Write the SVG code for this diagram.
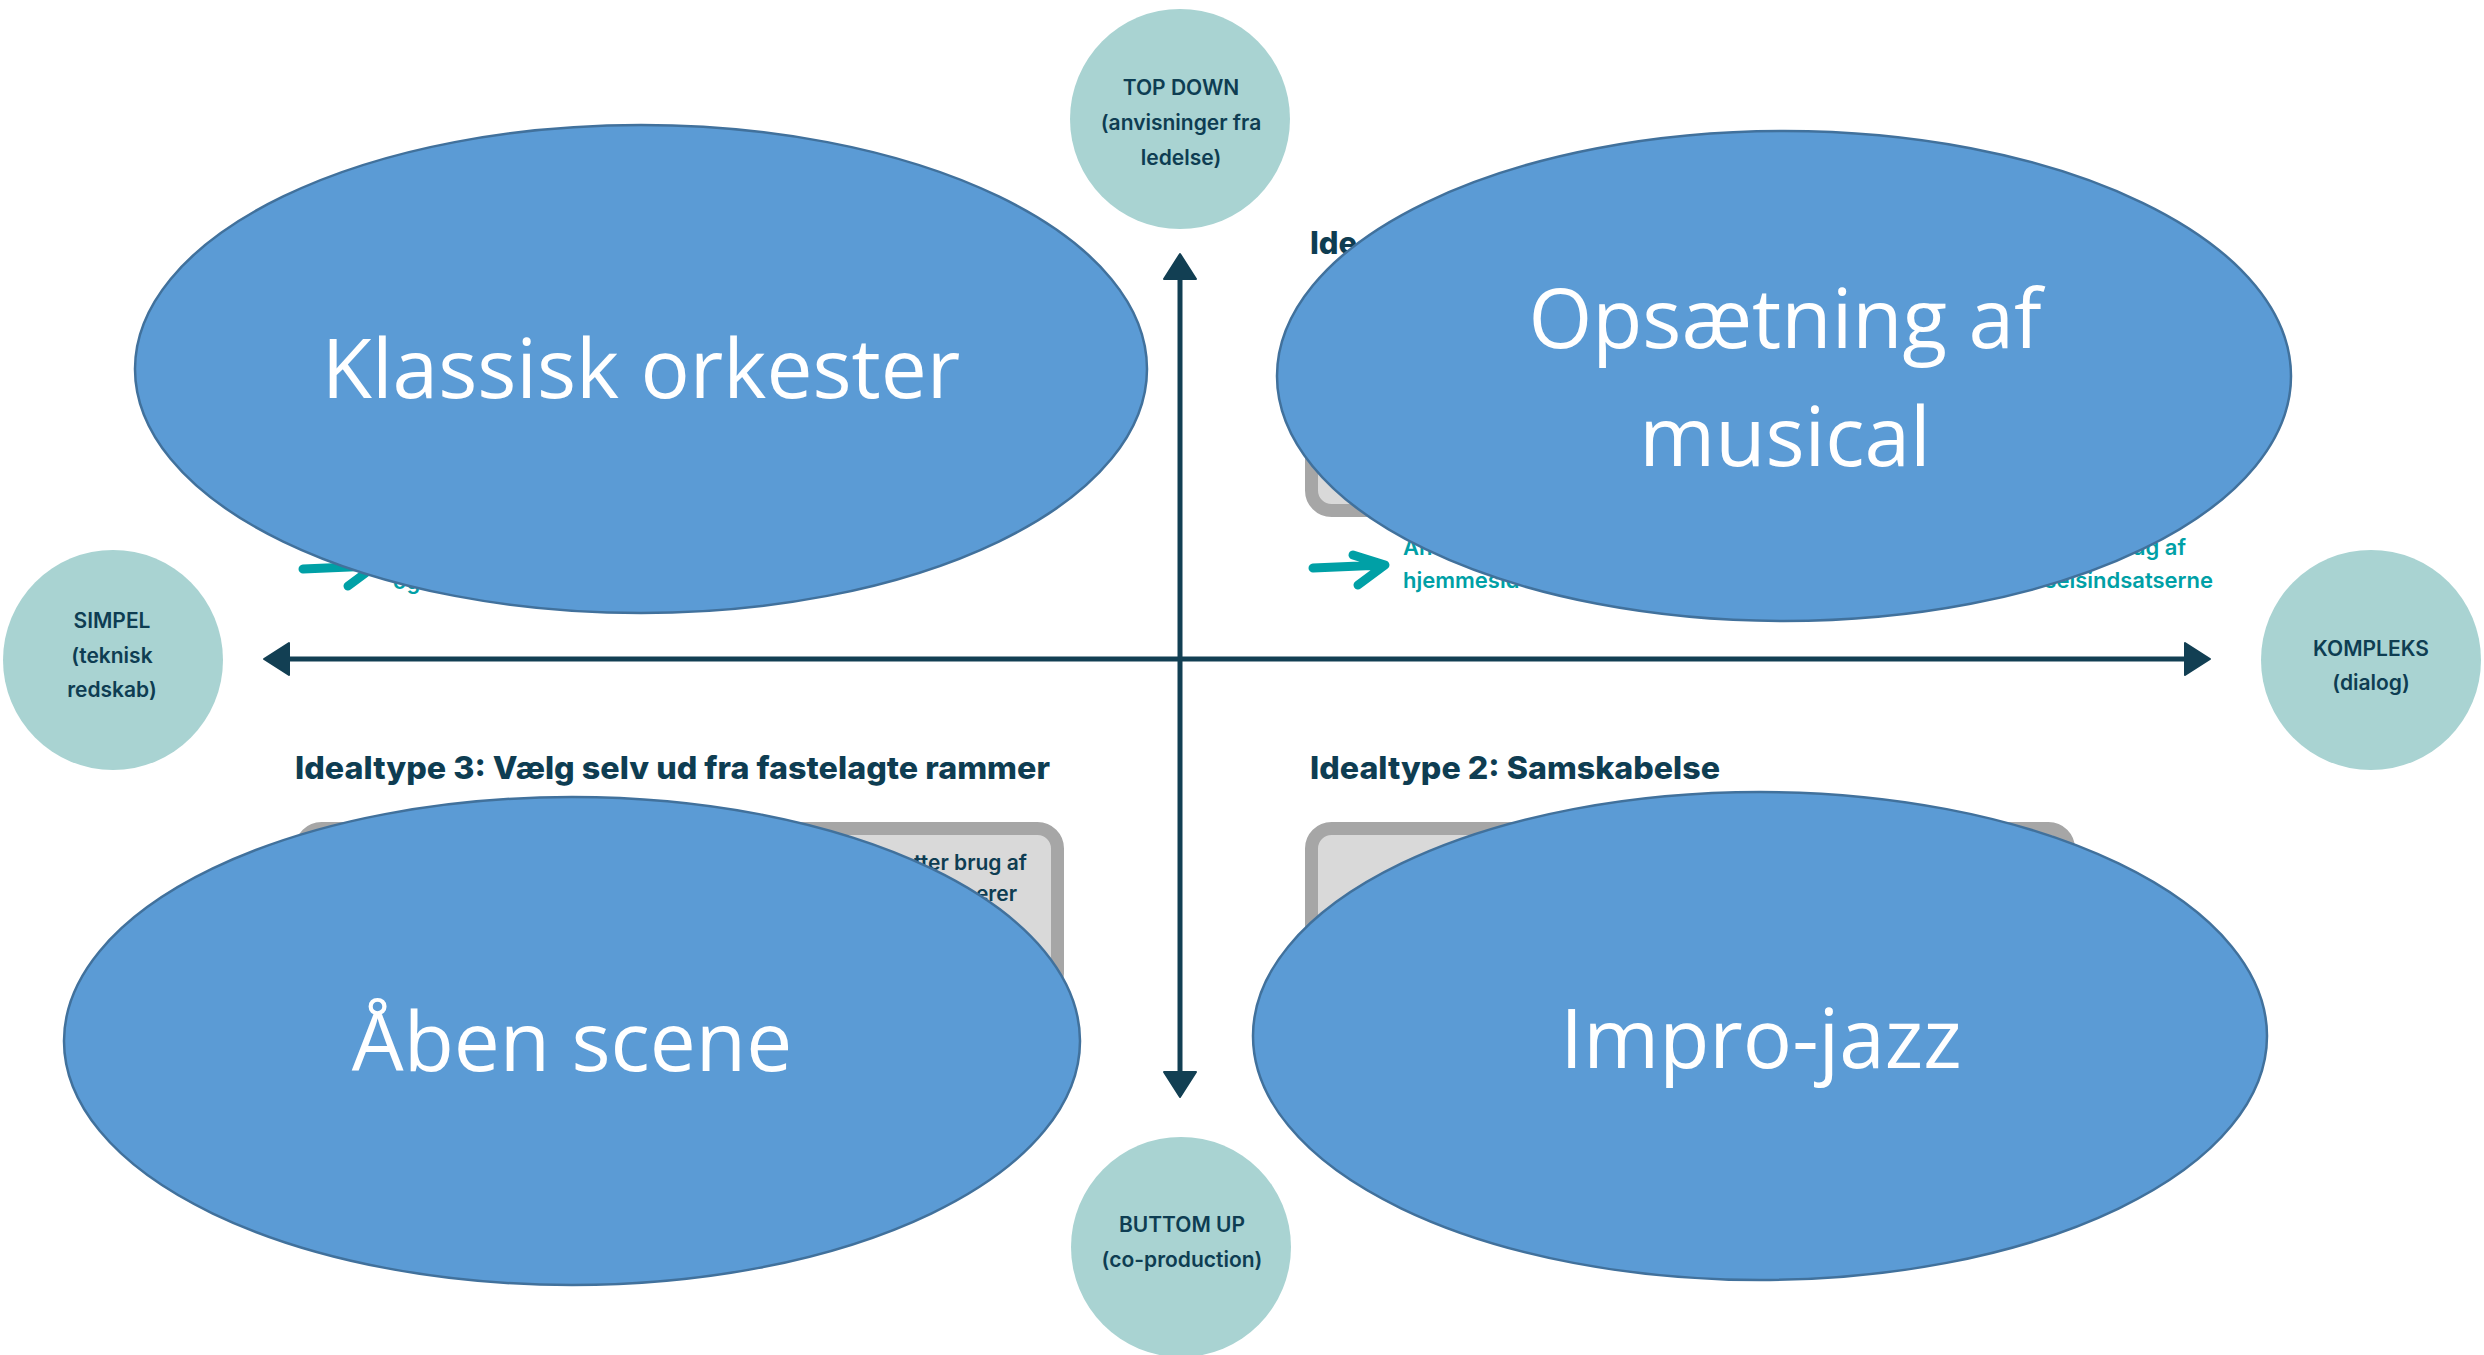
<svg xmlns="http://www.w3.org/2000/svg" width="2484" height="1355" viewBox="0 0 2484 1355">
<defs>
<style>
.box{fill:#d9d9d9;stroke:#a6a6a6;stroke-width:13}
.head{font-family:Inter,"Liberation Sans",sans-serif;font-weight:800;font-size:31px;fill:#0e3d52}
.teal{font-family:Inter,"Liberation Sans",sans-serif;font-weight:600;font-size:22px;fill:#00a0a6}
.boxtxt{font-family:Inter,"Liberation Sans",sans-serif;font-weight:600;font-size:21px;fill:#0e3d52}
.axis{stroke:#123f53;stroke-width:5;fill:none;marker-start:url(#ah);marker-end:url(#ah)}
.pole circle{fill:#a9d3d2}
.pole text{font-family:Inter,"Liberation Sans",sans-serif;font-weight:600;font-size:21px;fill:#0e3d52;text-anchor:middle}
.ell ellipse{fill:#5b9bd5;stroke:#41719c;stroke-width:2.5}
.ell text{font-family:"Open Sans","Noto Sans",sans-serif;font-size:82px;fill:#ffffff;text-anchor:middle}
.brush{fill:none;stroke:#00a0a6;stroke-width:9;stroke-linecap:round;stroke-linejoin:round}
</style>
<marker id="ah" viewBox="0 -18 28 36" refX="1" refY="0" markerWidth="28" markerHeight="36" markerUnits="userSpaceOnUse" orient="auto-start-reverse">
<path d="M1,-16 L26,0 L1,16 Z" fill="#123f53" stroke="#123f53" stroke-width="2" stroke-linejoin="round"/>
</marker>
<path id="brushArrow" d="M0,1 C20,0 45,-1 70,-2 M40,-12 L72,-2 L45,18"/>
</defs>
<rect width="2484" height="1355" fill="#ffffff"/>

<g id="background">
<rect class="box" x="1311.5" y="290" width="763" height="220.5" rx="20"/>
<rect class="box" x="301.5" y="828.5" width="756" height="165" rx="20"/>
<rect class="box" x="1311.5" y="828.5" width="757" height="165" rx="20"/>
<text class="head" x="1310" y="254">Ide</text>
<text class="head" x="295" y="779" textLength="755" lengthAdjust="spacingAndGlyphs">Idealtype 3: Vælg selv ud fra fastelagte rammer</text>
<text class="head" x="1310" y="779" textLength="410" lengthAdjust="spacingAndGlyphs">Idealtype 2: Samskabelse</text>
<use href="#brushArrow" class="brush" x="1313" y="567"/>
<use href="#brushArrow" class="brush" x="303" y="568"/>
<text class="teal" x="1403" y="555">An</text>
<text class="teal" x="1403" y="588">hjemmesid</text>
<text class="teal" x="2186" y="555" text-anchor="end">ug af</text>
<text class="teal" x="2213" y="588" text-anchor="end">vselsindsatserne</text>
<text class="teal" x="393" y="589">og</text>
<text class="boxtxt" x="1027" y="870" text-anchor="end">tter brug af</text>
<text class="boxtxt" x="1017" y="901" text-anchor="end">erer</text>
</g>

<g id="connectors">
<path class="axis" d="M289,659 L2185,659"/>
<path class="axis" d="M1180,279 L1180,1072"/>
</g>

<g id="top-down" class="pole">
<circle cx="1180" cy="119" r="110"/>
<text x="1181" y="95">TOP DOWN</text>
<text x="1181" y="130">(anvisninger fra</text>
<text x="1181" y="165">ledelse)</text>
</g>
<g id="simpel" class="pole">
<circle cx="113" cy="660" r="110"/>
<text x="112" y="628">SIMPEL</text>
<text x="112" y="663">(teknisk</text>
<text x="112" y="697">redskab)</text>
</g>
<g id="kompleks" class="pole">
<circle cx="2371" cy="660" r="110"/>
<text x="2371" y="656">KOMPLEKS</text>
<text x="2371" y="690">(dialog)</text>
</g>
<g id="buttom-up" class="pole">
<circle cx="1181" cy="1247" r="110"/>
<text x="1182" y="1232">BUTTOM UP</text>
<text x="1182" y="1267">(co-production)</text>
</g>

<g id="klassisk-orkester" class="ell">
<ellipse cx="641" cy="369" rx="506" ry="244"/>
<text x="641" y="398">Klassisk orkester</text>
</g>
<g id="opsaetning-af-musical" class="ell">
<ellipse cx="1784" cy="376" rx="507" ry="245"/>
<text x="1785" y="348">Opsætning af</text>
<text x="1785" y="466">musical</text>
</g>
<g id="aaben-scene" class="ell">
<ellipse cx="572" cy="1041" rx="508" ry="244"/>
<text x="572" y="1071">Åben scene</text>
</g>
<g id="impro-jazz" class="ell">
<ellipse cx="1760" cy="1036" rx="507" ry="244"/>
<text x="1761" y="1068">Impro-jazz</text>
</g>
</svg>
